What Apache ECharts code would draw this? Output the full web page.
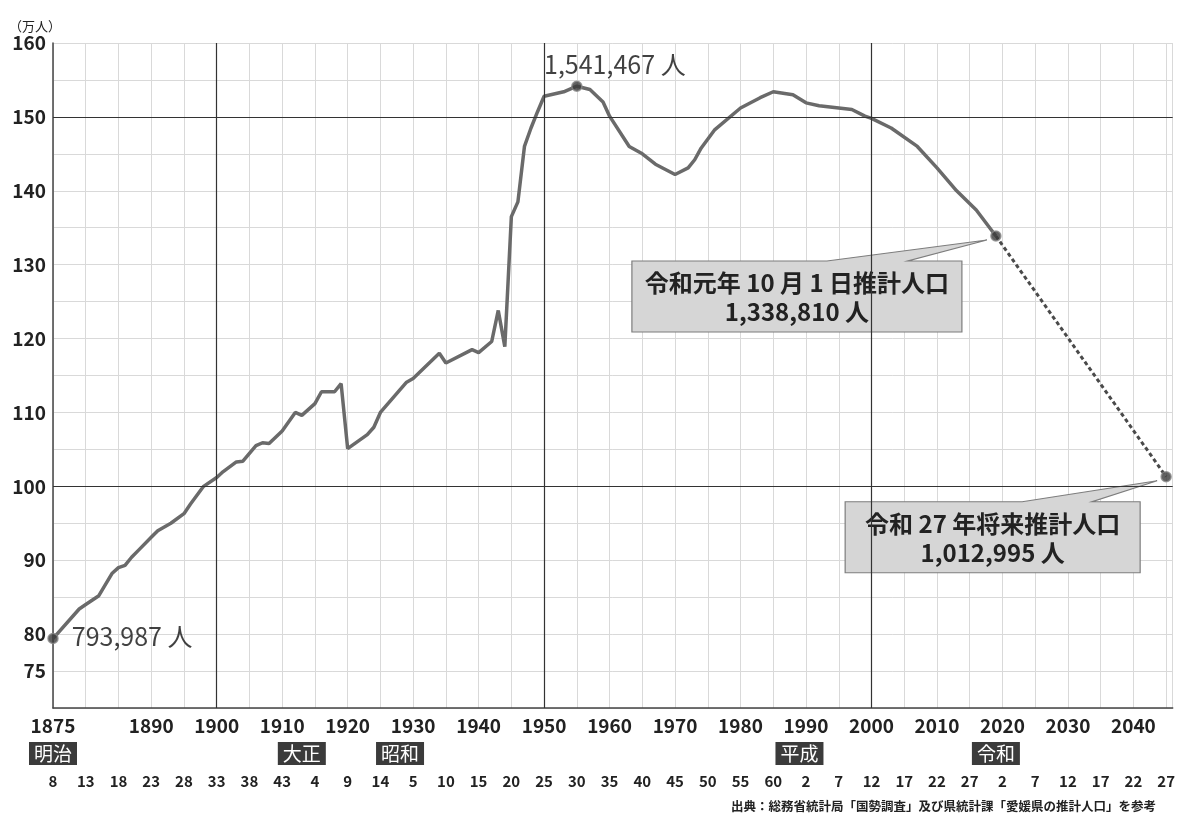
<!DOCTYPE html>
<html><head><meta charset="utf-8">
<script src="https://cdn.jsdelivr.net/npm/echarts@6/dist/echarts.min.js"></script>
<style>html,body{margin:0;padding:0;background:#fff}#chart{width:1178px;height:814px}</style>
</head><body><div id="chart"></div>
<script>
// ---- data (万人) ----
const years = [1875,1879,1880,1882,1884,1885,1886,1887,1888,1890,1891,1893,1895,1896,1898,1900,1901,1903,1904,1906,1907,1908,1910,1912,1913,1915,1916,1918,1919,1920,1923,1924,1925,1929,1930,1934,1935,1939,1940,1942,1943,1944,1945,1946,1947,1948,1949,1950,1951,1953,1955,1957,1959,1960,1963,1965,1967,1970,1972,1973,1974,1976,1980,1983,1985,1988,1990,1992,1997,1999,2000,2003,2007,2010,2013,2016,2019];
const population = [79.40,83.4,84.0,85.2,88.2,89.0,89.3,90.4,91.3,93.1,94.0,95.0,96.3,97.6,100.0,101.2,102.0,103.3,103.4,105.5,105.9,105.8,107.5,110.0,109.6,111.2,112.8,112.8,113.9,105.1,107.0,108.0,110.0,114.1,114.6,118.0,116.7,118.5,118.1,119.6,123.8,118.9,136.5,138.5,146.0,148.5,150.7,152.8,153.0,153.4,154.15,153.7,152.0,150.1,146.0,145.0,143.6,142.2,143.1,144.2,145.8,148.2,151.2,152.6,153.4,153.0,151.9,151.5,151.0,150.1,149.8,148.5,146.0,143.1,140.0,137.4,133.88];
const projYears = [2019, 2045];
const projPopulation = [133.88, 101.30];
const highlightYears = [1875, 1955, 2019, 2045];
const highlightValues = [79.40, 154.15, 133.88, 101.30];
const highlightLabels = ['793,987 人', '1,541,467 人', '', ''];
const callout2019 = ['令和元年 10 月 1 日推計人口', '1,338,810 人'];
const callout2045 = ['令和 27 年将来推計人口', '1,012,995 人'];
const xTickLabels = [1875,1890,1900,1910,1920,1930,1940,1950,1960,1970,1980,1990,2000,2010,2020,2030,2040];
const yTickLabels = [75,80,90,100,110,120,130,140,150,160];
const majorXLines = [1900, 1950, 2000];
const majorYLines = [100, 150];
const eraNames = ['明治', '大正', '昭和', '平成', '令和'];
const eraLabelYears = [1875, 1913, 1928, 1989, 2019];
const eraNumberYears = [1875,1880,1885,1890,1895,1900,1905,1910,1915,1920,1925,1930,1935,1940,1945,1950,1955,1960,1965,1970,1975,1980,1985,1990,1995,2000,2005,2010,2015,2020,2025,2030,2035,2040,2045];
const eraNumberLabels = ['8','13','18','23','28','33','38','43','4','9','14','5','10','15','20','25','30','35','40','45','50','55','60','2','7','12','17','22','27','2','7','12','17','22','27'];
const unitLabel = '（万人）';
const sourceText = '出典：総務省統計局「国勢調査」及び県統計課「愛媛県の推計人口」を参考';

const FONT = '"Noto Sans CJK JP", "Noto Sans", sans-serif';
const chart = echarts.init(document.getElementById('chart'), null, {renderer: 'canvas'});

const baseX = {type: 'value', min: 1875, max: 2046, interval: 5, position: 'bottom'};

const option = {
  animation: false,
  backgroundColor: '#ffffff',
  textStyle: {fontFamily: FONT},
  title: [
    {text: unitLabel, left: 4, top: 15, textStyle: {fontSize: 13, fontWeight: 'normal', color: '#222', fontFamily: FONT}},
    {text: sourceText, right: 22, bottom: 1, padding: 0, textStyle: {fontSize: 12.5, fontWeight: 'bold', color: '#222', fontFamily: FONT}}
  ],
  grid: {left: 53, right: 5, top: 43, bottom: 106, containLabel: false},
  xAxis: [
    Object.assign({}, baseX, {
      axisLine: {show: true, onZero: false, lineStyle: {color: '#444', width: 1.5}},
      axisTick: {show: false},
      splitLine: {show: true, lineStyle: {color: '#d9d9d9', width: 1}},
      axisLabel: {customValues: xTickLabels, margin: 8, fontSize: 19, fontWeight: 'bold', color: '#222', fontFamily: FONT,
                  formatter: v => String(v)}
    }),
    Object.assign({}, baseX, {
      offset: 30,
      axisLine: {show: false}, axisTick: {show: false}, splitLine: {show: false},
      axisLabel: {
        customValues: eraLabelYears, margin: 4, fontSize: 19, lineHeight: 19, color: '#ffffff',
        backgroundColor: '#3b3b3b', padding: [2, 5, 2, 5], fontFamily: FONT,
        formatter: v => { const i = eraLabelYears.indexOf(v); return i >= 0 ? eraNames[i] : ''; }
      }
    }),
    Object.assign({}, baseX, {
      offset: 60,
      axisLine: {show: false}, axisTick: {show: false}, splitLine: {show: false},
      axisLabel: {
        customValues: eraNumberYears, margin: 6, fontSize: 15, fontWeight: 'bold', color: '#222', fontFamily: FONT,
        formatter: v => { const i = eraNumberYears.indexOf(v); return i >= 0 ? eraNumberLabels[i] : ''; }
      }
    })
  ],
  yAxis: {
    type: 'value', min: 70, max: 160, interval: 5,
    axisLine: {show: true, lineStyle: {color: '#444', width: 1.5}},
    axisTick: {show: false},
    splitLine: {show: true, lineStyle: {color: '#d9d9d9', width: 1}},
    axisLabel: {customValues: yTickLabels, margin: 7, fontSize: 19, fontWeight: 'bold', color: '#222', fontFamily: FONT}
  },
  series: [
    {
      type: 'line', name: 'population', xAxisIndex: 0,
      data: years.map((y, i) => [y, population[i]]),
      showSymbol: false, smooth: false,
      lineStyle: {color: '#6a6a6a', width: 3.5},
      z: 3,
      markLine: {
        silent: true, symbol: 'none', label: {show: false},
        lineStyle: {color: '#333', width: 1.2, type: 'solid'},
        data: majorXLines.map(v => ({xAxis: v})).concat(majorYLines.map(v => ({yAxis: v})))
      }
    },
    {
      type: 'line', name: 'projection', xAxisIndex: 0,
      data: projYears.map((y, i) => [y, projPopulation[i]]),
      showSymbol: false,
      lineStyle: {color: '#4a4a4a', width: 3, type: [4, 3]},
      z: 3
    },
    {
      type: 'scatter', name: 'highlight', xAxisIndex: 0,
      data: highlightYears.map((y, i) => ({
        value: [y, highlightValues[i]],
        label: highlightLabels[i] ? {
          show: true, formatter: highlightLabels[i],
          position: i === 0 ? 'right' : 'top',
          distance: i === 0 ? 13 : 3,
          offset: i === 0 ? [0, -2] : [38, 0],
          fontSize: 25, color: '#111', fontFamily: FONT
        } : {show: false}
      })),
      symbolSize: 10,
      itemStyle: {color: '#3a3a3a', borderColor: '#8a8a8a', borderWidth: 1.5},
      z: 5
    }
  ]
};
chart.setOption(option);

function drawCallouts() {
  const p1 = chart.convertToPixel({seriesIndex: 2}, [projYears[0], projPopulation[0]]);
  const p2 = chart.convertToPixel({seriesIndex: 2}, [projYears[1], projPopulation[1]]);
  function callout(p, dx, dy, w, h, b1, b2, lines) {
    const L = p[0] + dx, T = p[1] + dy, R = L + w, B = T + h;
    return {
      type: 'group', z: 10,
      children: [
        {type: 'polygon', shape: {points: [[L, T], [L + b1, T], [p[0] - 9, p[1] + 4], [L + b2, T], [R, T], [R, B], [L, B]]},
         style: {fill: '#d6d6d6', stroke: '#7d7d7d', lineWidth: 1.2}},
        {type: 'text', x: L + w / 2, y: T + h / 2 + 1,
         style: {text: lines.join('\n'), align: 'center', verticalAlign: 'middle', fill: '#222',
                 font: 'bold 24px ' + FONT, lineHeight: 29}}
      ]
    };
  }
  chart.setOption({graphic: [
    callout(p1, -364, 25, 330, 71, 195, 276, callout2019),
    callout(p2, -321, 25, 295, 71, 177, 247, callout2045)
  ]});
}
drawCallouts();
</script>
</body></html>
